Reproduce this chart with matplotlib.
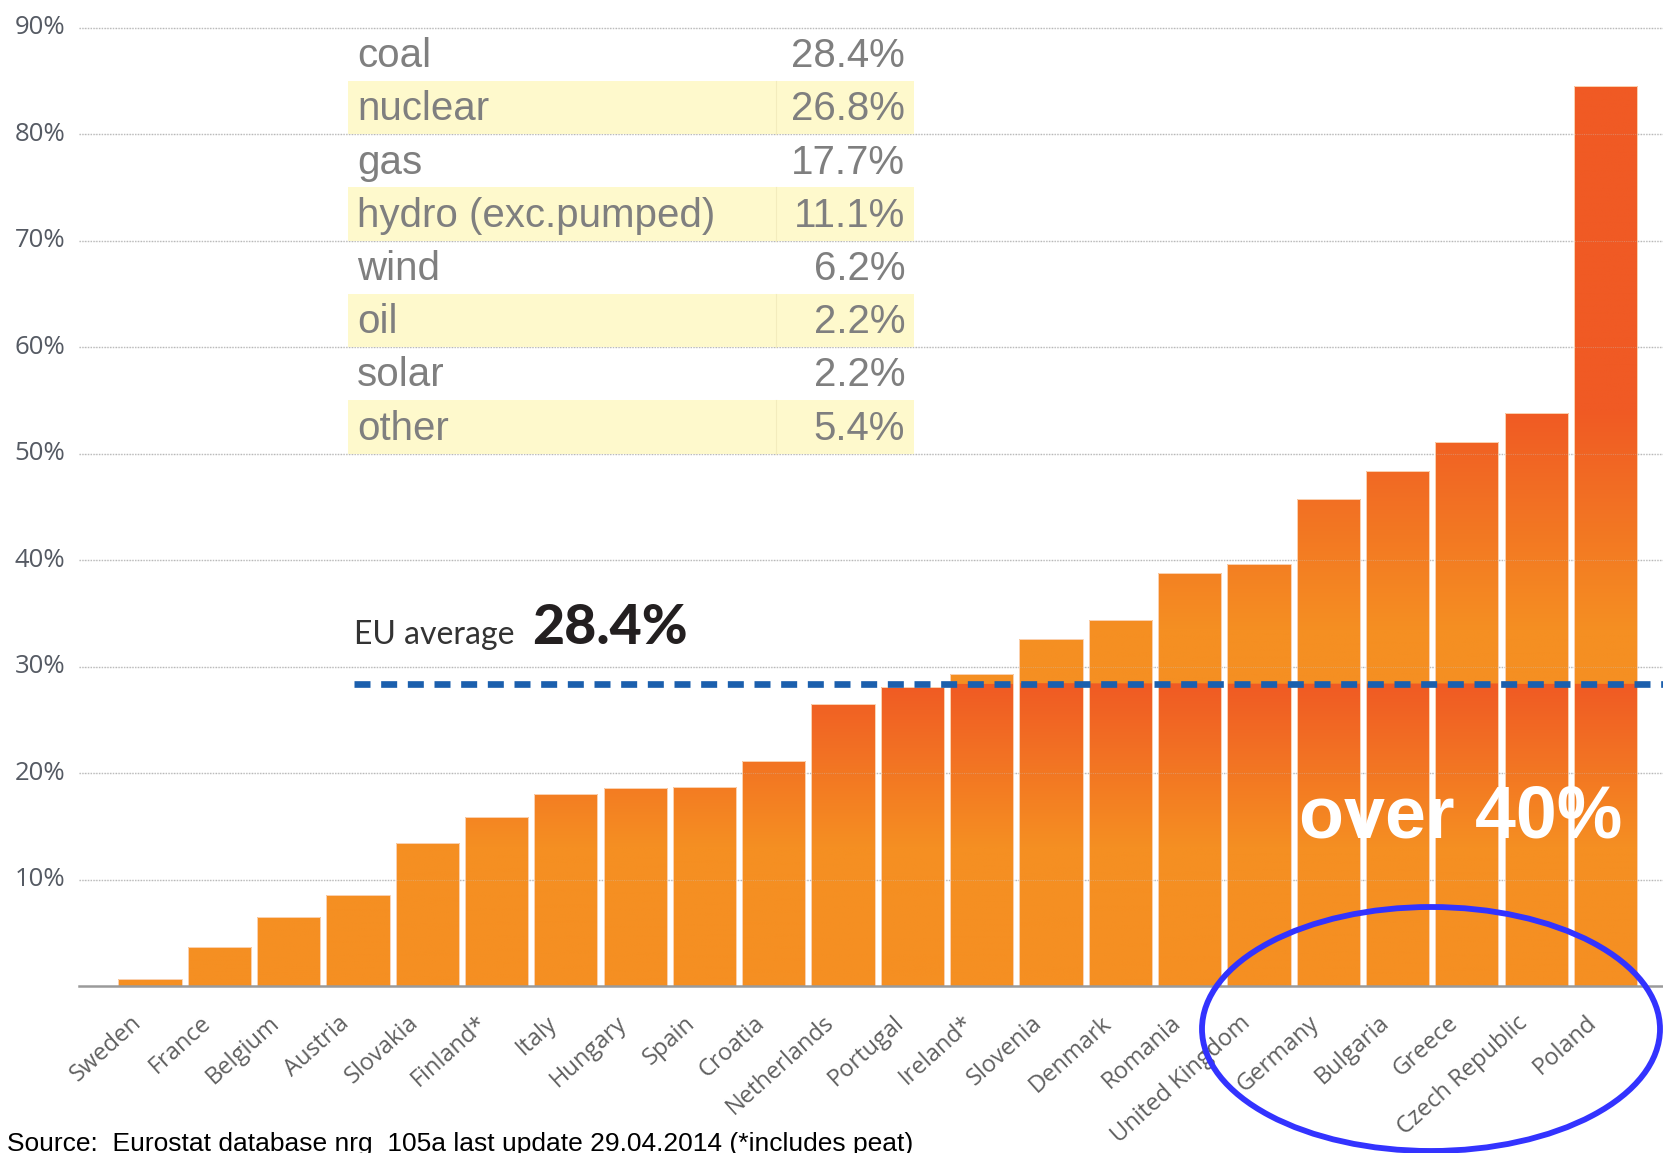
import matplotlib
matplotlib.use("Agg")
import matplotlib.pyplot as plt
import numpy as np
from matplotlib.patches import Rectangle, Ellipse
from matplotlib.transforms import blended_transform_factory, ScaledTranslation

# ---------------- data ----------------
countries = ["Sweden", "France", "Belgium", "Austria", "Slovakia", "Finland*", "Italy",
             "Hungary", "Spain", "Croatia", "Netherlands", "Portugal", "Ireland*",
             "Slovenia", "Denmark", "Romania", "United Kingdom", "Germany", "Bulgaria",
             "Greece", "Czech Republic", "Poland"]
coal_share = [0.7, 3.7, 6.5, 8.5, 13.4, 15.9, 18.0, 18.6, 18.7, 21.1, 26.5, 28.1, 29.3,
              32.6, 34.4, 38.8, 39.6, 45.7, 48.4, 51.1, 53.8, 84.5]
eu_avg = 28.4
eu_label = "28.4%"

fuels = ["coal", "nuclear", "gas", "hydro (exc.pumped)", "wind", "oil", "solar", "other"]
fuel_share_labels = ["28.4%", "26.8%", "17.7%", "11.1%", "6.2%", "2.2%", "2.2%", "5.4%"]

yticks = [10, 20, 30, 40, 50, 60, 70, 80, 90]
ytick_labels = ["10%", "20%", "30%", "40%", "50%", "60%", "70%", "80%", "90%"]

source_text = "Source:  Eurostat database nrg_105a last update 29.04.2014 (*includes peat)"

# ---------------- figure ----------------
W, H = 1663, 1153
fig = plt.figure(figsize=(W / 100, H / 100), dpi=100)
fig.patch.set_facecolor("white")
ax = fig.add_axes([79 / W, (H - 986) / H, 1 - 79 / W, (986 - 17) / H])
ax.set_facecolor("white")

x = np.arange(len(countries))
xlim = (-1.0245, 21.83)
ylim = (0, 91)

# grid / ticks
ax.set_yticks(yticks)
ax.set_yticklabels(ytick_labels, fontfamily="Open Sans", fontsize=18.5, color="#555a63")
ax.tick_params(axis="y", length=0, pad=10)
for lab in ax.get_yticklabels():
    lab.set_transform(lab.get_transform() + ScaledTranslation(0, 0.03, fig.dpi_scale_trans))
ax.set_xticks([])
ax.yaxis.grid(True, color="#b8b8b8", lw=1.0, linestyle=(0, (1.0, 1.0)))
ax.set_axisbelow(True)
for s in ["left", "right", "top"]:
    ax.spines[s].set_visible(False)
ax.spines["bottom"].set_color("#9a9a9a")
ax.spines["bottom"].set_linewidth(1.8)
ax.spines["bottom"].set_zorder(6)

# gradient bars
ORANGE = np.array([245, 143, 34]) / 255
RED = np.array([240, 90, 36]) / 255
ys = np.linspace(ylim[0], ylim[1], 911)
t = np.where(ys < eu_avg,
             np.clip((ys - 13.0) / (eu_avg - 13.0), 0, 1),
             np.clip((ys - eu_avg - 5.0) / (54.0 - eu_avg - 5.0), 0, 1))
grad = (ORANGE[None, :] * (1 - t[:, None]) + RED[None, :] * t[:, None])[:, None, :]

bar_w = 0.913
bars = ax.bar(x, coal_share, width=bar_w, facecolor="none", edgecolor="#fbd3b3",
              linewidth=0.7, zorder=3)
for b in bars:
    x0 = b.get_x()
    im = ax.imshow(grad, extent=[x0, x0 + b.get_width(), ylim[0], ylim[1]],
                   origin="lower", aspect="auto", interpolation="bilinear", zorder=2)
    im.set_clip_path(b)

ax.set_xlim(*xlim)
ax.set_ylim(*ylim)

# faint gridlines visible through the bars
for yv in yticks:
    ax.axhline(yv, color="#c8c8c8", lw=0.8, linestyle=(0, (1.0, 1.0)), alpha=0.35, zorder=3.5)

bt = blended_transform_factory(ax.transAxes, ax.transData)

# table of fuel shares (8 rows of 5 units each, from 90 downwards)
for k, (name, val) in enumerate(zip(fuels, fuel_share_labels)):
    top = 90 - 5 * k
    bottom = top - 5
    if k % 2 == 1:
        ax.add_patch(Rectangle((0.170, bottom), 0.527 - 0.170, 5, transform=bt,
                               facecolor="#fef9cc", edgecolor="none", zorder=1.5))
        ax.plot([0.440, 0.440], [bottom, top], transform=bt, color="#f3ecbd",
                lw=0.8, zorder=1.6)
    ax.text(0.1755, bottom + 1.3, name, transform=bt, fontfamily="Liberation Sans",
            fontsize=29, color="#7f7f7f", va="baseline", ha="left", zorder=4)
    ax.text(0.5215, bottom + 1.3, val, transform=bt, fontfamily="Liberation Sans",
            fontsize=29, color="#7f7f7f", va="baseline", ha="right", zorder=4)

# EU average line + text
ax.plot([0.1736, 1.0], [eu_avg, eu_avg], transform=bt, color="#1b5fad", lw=4.8,
        linestyle=(0, (2.4, 1.6)), dash_capstyle="butt", zorder=5, clip_on=False)
ax.text(0.1736, 32.1, "EU average", transform=bt, fontfamily="Lato", fontsize=23,
        color="#333333", va="baseline", ha="left")
ax.text(0.286, 32.1, eu_label, transform=bt, fontfamily="Lato", fontweight="black",
        fontsize=40, color="#231f20", va="baseline", ha="left")

# "over 40%" annotation
ax.text(0.770, 13.9, "over 40%", transform=bt, fontfamily="Liberation Sans",
        fontweight="bold", fontsize=53, color="white", va="baseline", ha="left", zorder=7)

# country labels
lt = blended_transform_factory(ax.transData, ax.transAxes) + \
    ScaledTranslation(-0.20, -0.25, fig.dpi_scale_trans)
for xi, name in zip(x, countries):
    ax.text(xi, 0, name, transform=lt, rotation=42, rotation_mode="anchor",
            ha="right", va="top", fontfamily="Open Sans", fontsize=17, color="#606060",
            clip_on=False)

# highlight ellipse
fig.add_artist(Ellipse((1431 / W, 1 - 1029 / H), 458 / W, 244 / H,
                       transform=fig.transFigure, fill=False, edgecolor="#3333ff",
                       linewidth=4.2, zorder=10))

# source
fig.text(7 / W, (H - 1151) / H, source_text, fontfamily="Liberation Sans", fontsize=19,
         color="black", va="baseline", ha="left")

fig.savefig("out.png", dpi=100, facecolor="white")
